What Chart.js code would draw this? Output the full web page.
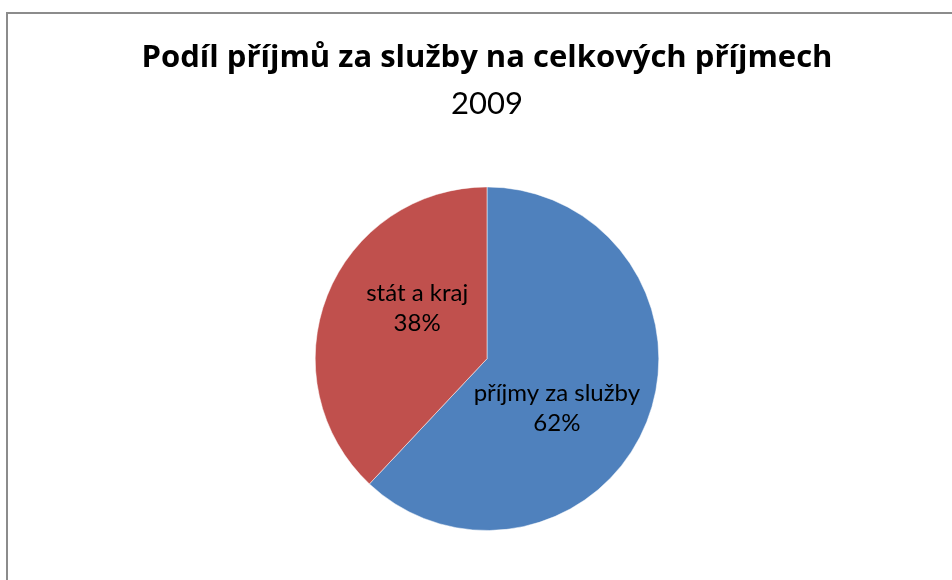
<!DOCTYPE html>
<html lang="cs">
<head>
    <meta charset="UTF-8">
    <title>Podíl příjmů za služby na celkových příjmech</title>
    <script src="https://cdn.jsdelivr.net/npm/chart.js"></script>
    <style>
        html, body {
            margin: 0;
            padding: 0;
            background: #fff;
        }
        .frame {
            position: absolute;
            left: 6px;
            top: 12px;
            width: 960px;
            height: 600px;
            border-left: 2px solid #8c8c8c;
            border-top: 2px solid #8c8c8c;
        }
        .chart-box {
            position: absolute;
            left: 0;
            top: 0;
            width: 952px;
            height: 580px;
        }
    </style>
</head>
<body>
    <div class="frame"></div>
    <div class="chart-box">
        <canvas id="pieChart" width="952" height="580"></canvas>
    </div>

    <script>
        // Data
        const categories = ['příjmy za služby', 'stát a kraj'];
        const shares = [62, 38];
        const sliceColors = ['#4F81BD', '#C0504D'];

        // Draw category name + percentage inside each slice
        const sliceLabels = {
            id: 'sliceLabels',
            afterDatasetsDraw(chart, args, opts) {
                const ctx = chart.ctx;
                const meta = chart.getDatasetMeta(0);
                const values = chart.data.datasets[0].data;
                const total = values.reduce((a, b) => a + b, 0);
                ctx.save();
                ctx.font = opts.font;
                ctx.fillStyle = opts.color;
                ctx.textAlign = 'center';
                ctx.textBaseline = 'middle';
                meta.data.forEach((arc, i) => {
                    const p = arc.getProps(['x', 'y', 'startAngle', 'endAngle', 'outerRadius'], true);
                    const mid = (p.startAngle + p.endAngle) / 2 + opts.angleShift;
                    const r = p.outerRadius * opts.radiusFactor;
                    const cx = p.x + Math.cos(mid) * r;
                    const cy = p.y + Math.sin(mid) * r;
                    const pct = Math.round(values[i] / total * 100) + '%';
                    ctx.fillText(chart.data.labels[i], cx, cy - opts.lineGap / 2);
                    ctx.fillText(pct, cx, cy + opts.lineGap / 2);
                });
                ctx.restore();
            }
        };

        const ctx = document.getElementById('pieChart').getContext('2d');
        new Chart(ctx, {
            type: 'pie',
            data: {
                labels: categories,
                datasets: [{
                    data: shares,
                    backgroundColor: sliceColors,
                    borderColor: 'rgba(255,255,255,0.5)',
                    borderWidth: 1
                }]
            },
            options: {
                responsive: false,
                animation: false,
                layout: {
                    padding: { top: 0, bottom: 49, left: 22, right: 0 }
                },
                plugins: {
                    legend: { display: false },
                    tooltip: { enabled: false },
                    title: {
                        display: true,
                        text: 'Podíl příjmů za služby na celkových příjmech',
                        color: '#000',
                        font: { family: 'Open Sans', size: 31, weight: 'bold', lineHeight: 1.2 },
                        padding: { top: 40, bottom: 0 }
                    },
                    subtitle: {
                        display: true,
                        text: '2009',
                        color: '#000',
                        font: { family: 'Lato', size: 31, weight: 'normal', lineHeight: 1.2 },
                        padding: { top: 8, bottom: 64 }
                    },
                    sliceLabels: {
                        font: '24px Lato',
                        color: '#000',
                        lineGap: 30,
                        radiusFactor: 0.5,
                        angleShift: 14 * Math.PI / 180
                    }
                }
            },
            plugins: [sliceLabels]
        });
    </script>
</body>
</html>
